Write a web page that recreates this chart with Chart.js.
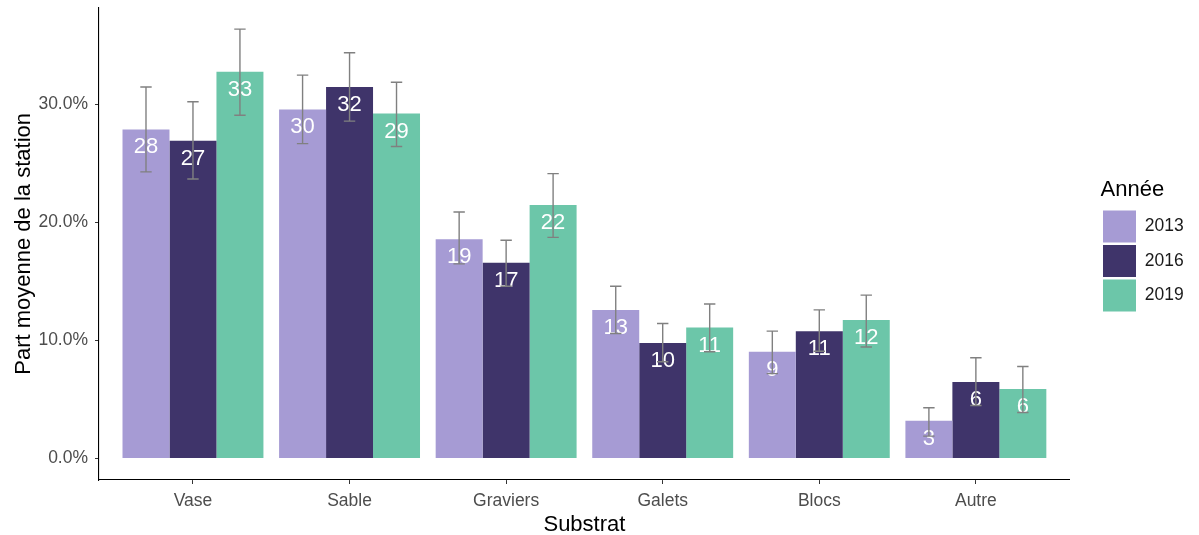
<!DOCTYPE html>
<html>
<head>
<meta charset="utf-8">
<script src="https://cdn.jsdelivr.net/npm/chart.js@4/dist/chart.umd.min.js"></script>
<style>
html,body{margin:0;padding:0;background:#fff;}
#wrap{width:1199px;height:535px;}
</style>
</head>
<body>
<div id="wrap"><canvas id="c" width="1199" height="535"></canvas></div>
<script>
const categories = ['Vase', 'Sable', 'Graviers', 'Galets', 'Blocs', 'Autre'];
const years = ['2013', '2016', '2019'];
const values2013 = [27.9, 29.6, 18.6, 12.6, 9.05, 3.2];
const values2016 = [26.95, 31.5, 16.6, 9.8, 10.8, 6.49];
const values2019 = [32.8, 29.25, 21.5, 11.1, 11.75, 5.9];
const low2013 = [24.3, 26.7, 16.5, 10.6, 7.2, 1.9];
const high2013 = [31.5, 32.5, 20.9, 14.6, 10.8, 4.3];
const low2016 = [23.7, 28.6, 14.6, 8.2, 9.1, 4.5];
const high2016 = [30.25, 34.4, 18.5, 11.45, 12.6, 8.55];
const low2019 = [29.1, 26.45, 18.75, 9.05, 9.45, 3.9];
const high2019 = [36.4, 31.9, 24.15, 13.1, 13.85, 7.8];
const yTicks = [0, 10, 20, 30];

const colors = ['#a69bd4', '#3f346a', '#6cc6a9'];
const seriesValues = [values2013, values2016, values2019];
const seriesLow = [low2013, low2016, low2019];
const seriesHigh = [high2013, high2016, high2019];

const FONT = '"Liberation Sans", Arial, sans-serif';

const datasets = years.map((y, k) => ({
  label: y,
  data: seriesValues[k].map((v, i) => ({x: i + 1, y: v})),
  backgroundColor: colors[k],
  borderWidth: 0,
  categoryPercentage: 0.9,
  barPercentage: 1.0,
  low: seriesLow[k],
  high: seriesHigh[k]
}));

const overlay = {
  id: 'overlay',
  afterLayout(chart) {
    const lg = chart.legend;
    const d = 1100.5 - lg.left;
    lg.left += d; lg.right += d;
  },
  afterDatasetsDraw(chart) {
    const ctx = chart.ctx;
    const yScale = chart.scales.y;
    ctx.save();
    chart.data.datasets.forEach((ds, k) => {
      const meta = chart.getDatasetMeta(k);
      meta.data.forEach((el, i) => {
        const v = seriesValues[k][i];
        ctx.fillStyle = '#ffffff';
        ctx.font = '22px ' + FONT;
        ctx.textAlign = 'center';
        ctx.textBaseline = 'middle';
        ctx.fillText(String(Math.round(v)), el.x, el.y + 18);
      });
    });
    chart.data.datasets.forEach((ds, k) => {
      const meta = chart.getDatasetMeta(k);
      meta.data.forEach((el, i) => {
        const yl = yScale.getPixelForValue(ds.low[i]);
        const yh = yScale.getPixelForValue(ds.high[i]);
        const hw = 5.7;
        ctx.strokeStyle = '#808080';
        ctx.lineWidth = 1.4;
        ctx.beginPath();
        ctx.moveTo(el.x, yl); ctx.lineTo(el.x, yh);
        ctx.moveTo(el.x - hw, yh); ctx.lineTo(el.x + hw, yh);
        ctx.moveTo(el.x - hw, yl); ctx.lineTo(el.x + hw, yl);
        ctx.stroke();
      });
    });
    ctx.restore();
  }
};

const zeroPad = (s) => { s.paddingTop = 0; s.paddingBottom = 0; s.paddingLeft = 0; s.paddingRight = 0; };

new Chart(document.getElementById('c'), {
  type: 'bar',
  data: {datasets},
  plugins: [overlay],
  options: {
    responsive: false,
    animation: false,
    devicePixelRatio: 1,
    layout: {padding: {top: 7.7, left: 13, right: 36, bottom: 0}},
    plugins: {
      tooltip: {enabled: false},
      legend: {
        position: 'right',
        align: 'center',
        fullSize: false,
        title: {
          display: true,
          text: 'Année',
          position: 'start',
          color: '#000',
          font: {family: FONT, size: 22, lineHeight: 1.2},
          padding: {top: 5.7, bottom: 2.3}
        },
        labels: {
          boxWidth: 33,
          boxHeight: 32,
          padding: 2.5,
          color: '#1a1a1a',
          font: {family: FONT, size: 17.5}
        }
      }
    },
    scales: {
      x: {
        type: 'linear',
        min: 0.4,
        max: 6.6,
        offset: false,
        afterBuildTicks: (s) => { s.ticks = categories.map((c, i) => ({value: i + 1})); },
        afterFit: zeroPad,
        ticks: {
          callback: (v) => categories[Math.round(v) - 1],
          color: '#4d4d4d',
          font: {family: FONT, size: 17.5},
          padding: 7,
          maxRotation: 0,
          autoSkip: false
        },
        grid: {display: true, offset: false, drawOnChartArea: false, drawTicks: true, tickLength: 4, color: '#333333', lineWidth: 1},
        border: {display: true, color: '#000000', width: 1.1},
        title: {display: true, text: 'Substrat', color: '#000', font: {family: FONT, size: 22, lineHeight: 1.0}, padding: {top: -5.2, bottom: -0.8}}
      },
      y: {
        min: -1.82,
        max: 38.22,
        afterBuildTicks: (s) => { s.ticks = yTicks.map(v => ({value: v})); },
        afterFit: zeroPad,
        ticks: {
          callback: (v) => v.toFixed(1) + '%',
          color: '#4d4d4d',
          font: {family: FONT, size: 17.5},
          padding: 7
        },
        grid: {display: true, offset: false, drawOnChartArea: false, drawTicks: true, tickLength: 4, color: '#333333', lineWidth: 1},
        border: {display: true, color: '#000000', width: 1.1},
        title: {display: true, text: 'Part moyenne de la station', color: '#000', font: {family: FONT, size: 22, lineHeight: 1.0}, padding: {top: 0, bottom: -3.6}}
      }
    }
  }
});
</script>
</body>
</html>
